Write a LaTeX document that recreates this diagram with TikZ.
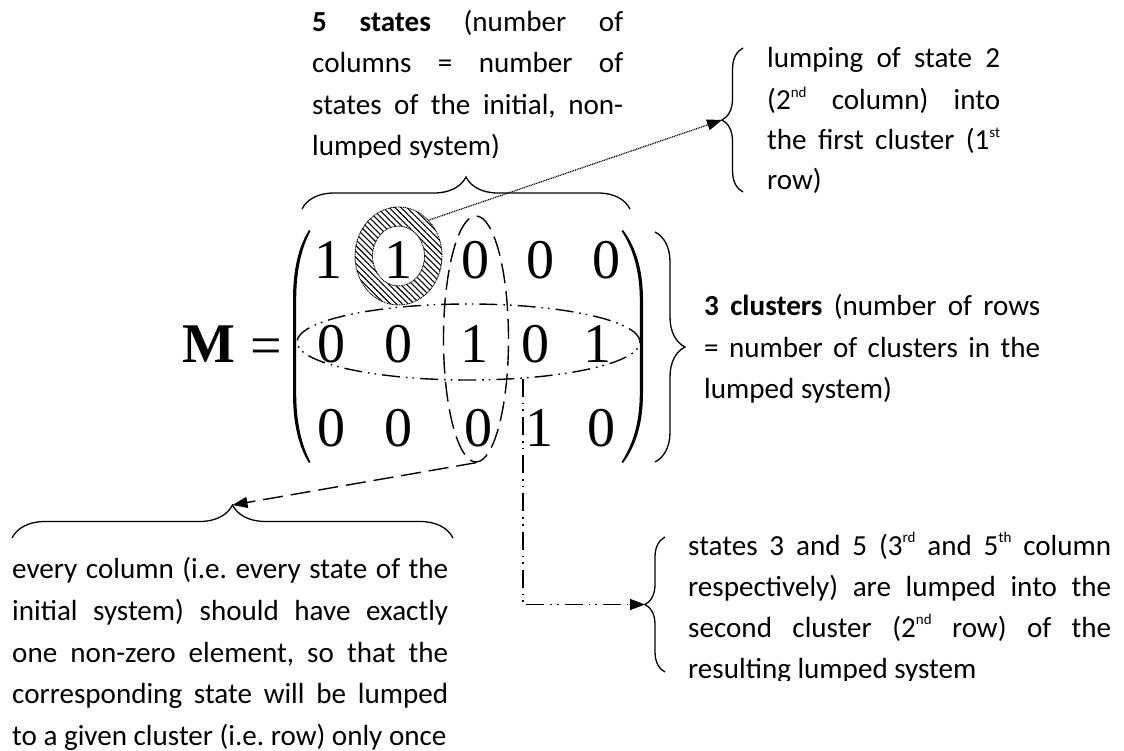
\documentclass[tikz,border=0pt]{standalone}
\usepackage{fontspec}
\setmainfont{Carlito}
\newfontfamily\tmsfont{Liberation Serif}
\usetikzlibrary{arrows.meta,decorations.pathreplacing,patterns.meta,shapes.geometric}
\frenchspacing

% superscript as in the ordinal numbers (2nd, 3rd, ...)
\newcommand\sups[1]{\raisebox{12.5pt}{\fontsize{15}{15}\selectfont #1}}
% one justified line of a text block: name, x, baseline y, width, text
\newcommand\jline[5]{\node[txt] (#1) at (#2,#3) {\makebox[#4pt][s]{#5}};}
% last (ragged) line of a text block: name, x, baseline y, text
\newcommand\lline[4]{\node[txt] (#1) at (#2,#3) {#4};}

\tikzset{
  txt/.style={inner sep=0pt, anchor=base west, font=\fontsize{29.1}{41.6}\selectfont},
  ent/.style={inner sep=0pt, anchor=base, font=\tmsfont\fontsize{56}{56}\selectfont},
  bracepath/.style={line width=1.3pt, decorate, decoration={brace, amplitude=#1}},
  bracepath/.default=20pt,
  tip/.style={-{Triangle[length=15pt,width=11pt]}},
  dashline/.style={line width=1.4pt, dash pattern=on 20pt off 8pt},
  ddd/.style={line width=1.4pt, dash pattern=on 18pt off 6pt on 1.6pt off 5pt on 1.6pt off 6pt},
  dotline/.style={line width=1.2pt, dash pattern=on 1pt off 0.8pt},
}

\begin{document}
\begin{tikzpicture}[x=1pt, y=-1pt]
\useasboundingbox (0,0) rectangle (1124,751);

% ---- highlighted entry (row 1, column 2): hatched ring ----
\node[ellipse, minimum width=87pt, minimum height=98pt, inner sep=0pt] (ring) at (398.5,256) {};
\fill[pattern={Lines[angle=-45,distance=4.2pt,line width=1.1pt]}, even odd rule]
  (398.5,256) ellipse [x radius=43.5, y radius=49]
  (398.5,256) ellipse [x radius=26, y radius=30];
\draw[line width=0.9pt, dash pattern=on 1pt off 0.7pt]
  (398.5,256) ellipse [x radius=43.5, y radius=49]
  (398.5,256) ellipse [x radius=26, y radius=30];

% ---- M = ----
\node[inner sep=0pt, anchor=base west, font=\tmsfont\fontsize{56}{56}\selectfont\bfseries] (Mname) at (182,362) {M};
\node[inner sep=0pt, anchor=base west, font=\tmsfont\fontsize{56}{56}\selectfont] (eqsign) at (250,364) {=};

% ---- matrix parentheses ----
\fill (309,230) .. controls (299,246) and (293,268) .. (293,300) -- (293,393)
  .. controls (293,425) and (299,447) .. (309,463) -- (310.5,462)
  .. controls (302,446) and (296.2,424) .. (296.2,393) -- (296.2,300)
  .. controls (296.2,269) and (302,247) .. (310.5,231) -- cycle;
\fill (623,230) .. controls (635,246) and (643,268) .. (643,300) -- (643,393)
  .. controls (643,425) and (635,447) .. (623,463) -- (621.5,462)
  .. controls (632,446) and (639.8,424) .. (639.8,393) -- (639.8,300)
  .. controls (639.8,269) and (632,247) .. (621.5,231) -- cycle;

% ---- matrix entries ----
\node[ent] (m11) at (328,279) {1};
\node[ent] (m12) at (398,279) {1};
\node[ent] (m13) at (475,279) {0};
\node[ent] (m14) at (540,279) {0};
\node[ent] (m15) at (606,279) {0};
\node[ent] (m21) at (331,362.5) {0};
\node[ent] (m22) at (398,362.5) {0};
\node[ent] (m23) at (474,362.5) {1};
\node[ent] (m24) at (535,362.5) {0};
\node[ent] (m25) at (597,362.5) {1};
\node[ent] (m31) at (331,446) {0};
\node[ent] (m32) at (398,446) {0};
\node[ent] (m33) at (478,446) {0};
\node[ent] (m34) at (539,446) {1};
\node[ent] (m35) at (601,446) {0};

% ---- column 3 (dashed) and row 2 (dash-dot-dot) outlines ----
\node[ellipse, draw, dashline, minimum width=65pt, minimum height=246pt, inner sep=0pt] (col3) at (476,339) {};
\node[ellipse, draw, ddd, minimum width=343pt, minimum height=76pt, inner sep=0pt] (row2) at (468.5,342) {};

% ---- braces ----
\coordinate (topL) at (302,209);  \coordinate (topR) at (630,209);
\draw[bracepath=32pt] (topL) -- (topR);
\coordinate (cluT) at (655,232);  \coordinate (cluB) at (655,462);
\draw[bracepath=30pt] (cluT) -- (cluB);
\coordinate (trB) at (743,192);   \coordinate (trT) at (743,48);
\draw[bracepath=21pt] (trB) -- (trT);
\coordinate (trTip) at (722,120);
\coordinate (blL) at (12,538);    \coordinate (blR) at (453,538);
\draw[bracepath=33pt] (blL) -- (blR);
\coordinate (blTip) at (232.5,505);
\coordinate (brB) at (665,672);   \coordinate (brT) at (665,537);
\draw[bracepath=20pt] (brB) -- (brT);
\coordinate (brTip) at (645,604.5);

% ---- connectors ----
\draw[dotline, tip] (ring.50) -- (trTip);
\draw[dashline, tip] (col3.south) -- (blTip);
\draw[ddd, tip] (row2.-34) |- (brTip);

% ---- text: number of states ----
\jline{sA}{312}{32}{311}{\textbf{5 states} (number of}
\jline{sB}{312}{73}{311}{columns = number of}
\jline{sC}{312}{115}{311}{states of the initial, non-}
\begin{scope}
  \clip (300,120) rectangle (640,157.5);
  \lline{sD}{312}{156}{lumped system)}
\end{scope}

% ---- text: lumping of state 2 ----
\jline{lA}{767}{68}{233}{lumping of state 2}
\jline{lB}{767}{110}{233}{(2\sups{nd} column) into}
\jline{lC}{767}{150}{233}{the first cluster (1\sups{st}}
\lline{lD}{767}{190}{row)}

% ---- text: number of clusters ----
\jline{cA}{704}{315}{336}{\textbf{3 clusters} (number of rows}
\jline{cB}{704}{357}{336}{= number of clusters in the}
\lline{cC}{704}{398}{lumped system)}

% ---- text: one non-zero element per column ----
\jline{eA}{12}{578}{436}{every column (i.e. every state of the}
\jline{eB}{12}{620}{436}{initial system) should have exactly}
\jline{eC}{12}{662}{436}{one non-zero element, so that the}
\jline{eD}{12}{703.5}{436}{corresponding state will be lumped}
\lline{eE}{12}{745}{to a given cluster (i.e. row) only once}

% ---- text: states 3 and 5 ----
\jline{rA}{688}{555}{423}{states 3 and 5 (3\sups{rd} and 5\sups{th} column}
\jline{rB}{688}{596}{423}{respectively) are lumped into the}
\jline{rC}{688}{637}{423}{second cluster (2\sups{nd} row) of the}
\begin{scope}
  \clip (680,640) rectangle (1124,680.5);
  \lline{rD}{688}{678}{resulting lumped system}
\end{scope}
\end{tikzpicture}
\end{document}
